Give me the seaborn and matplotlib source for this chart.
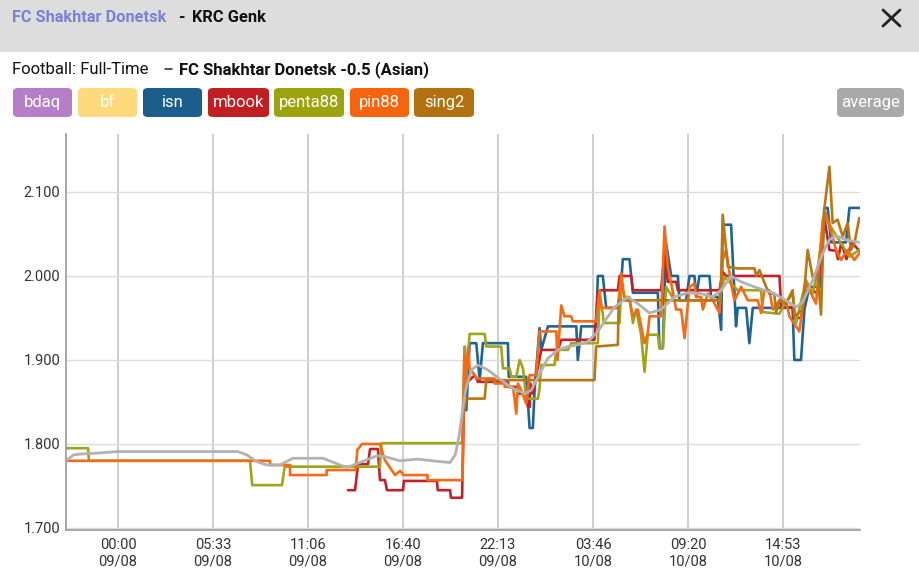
import numpy as np
import pandas as pd
import matplotlib
matplotlib.use("Agg")
import matplotlib.pyplot as plt
import matplotlib.dates as mdates
from matplotlib.patches import FancyBboxPatch, Rectangle
from matplotlib.lines import Line2D
import seaborn as sns

sns.set_theme(style="white")
plt.rcParams['font.family'] = ['Roboto', 'DejaVu Sans']

# ---------------- data (hours from 09/08 00:00, odds) ----------------
home_team = "FC Shakhtar Donetsk"
away_team = "KRC Genk"
market = "Football: Full-Time"
selection = "FC Shakhtar Donetsk -0.5 (Asian)"
books = ["bdaq", "bf", "isn", "mbook", "penta88", "pin88", "sing2"]
y_ticks = [1.7, 1.8, 1.9, 2.0, 2.1]

pin88_points = [(-3.04, 1.780), (8.89, 1.780), (8.89, 1.775), (10.06, 1.775), (10.06, 1.763), (12.2, 1.763),
                (12.2, 1.769), (13.9, 1.769), (14.0, 1.793), (14.27, 1.800), (15.32, 1.800), (15.6, 1.781),
                (16.2, 1.763), (16.5, 1.768), (16.7, 1.763), (18.1, 1.763), (18.1, 1.757), (20.15, 1.757),
                (20.25, 1.905), (20.35, 1.870), (20.47, 1.915), (20.56, 1.890), (20.86, 1.882), (20.95, 1.878),
                (22.02, 1.878), (22.02, 1.872), (22.61, 1.872), (22.61, 1.868), (23.10, 1.868), (23.29, 1.836),
                (23.39, 1.872), (23.58, 1.864), (23.87, 1.848), (24.07, 1.882), (24.46, 1.882), (24.65, 1.934),
                (25.63, 1.934), (25.70, 1.900), (25.92, 1.965), (26.11, 1.952), (26.50, 1.952), (26.60, 1.946),
                (27.96, 1.946), (28.16, 1.983), (28.26, 1.965), (28.35, 1.962), (29.23, 1.962), (29.43, 2.003),
                (29.62, 1.971), (29.91, 1.971), (30.11, 1.952), (30.40, 1.960), (30.79, 1.920), (30.98, 1.932),
                (31.08, 1.952), (31.76, 1.952), (31.96, 2.059), (32.15, 2.011), (32.35, 1.991), (32.64, 1.960),
                (32.93, 1.960), (33.13, 1.926), (33.42, 1.987), (33.71, 1.991), (33.81, 1.975), (34.10, 1.975),
                (34.20, 1.960), (34.49, 1.979), (34.78, 1.971), (35.17, 1.956), (35.36, 2.019), (35.56, 2.031),
                (35.85, 1.991), (36.05, 1.971), (36.44, 1.987), (36.83, 1.971), (37.41, 1.971), (37.60, 1.956),
                (37.80, 1.983), (38.09, 1.983), (38.29, 1.960), (38.68, 1.971), (39.06, 1.971), (39.26, 1.952),
                (39.84, 1.934), (40.23, 1.991), (40.82, 1.967), (41.21, 2.067), (41.40, 2.075), (41.99, 2.031),
                (42.28, 2.019), (42.67, 2.031), (43.06, 2.019), (43.35, 2.027)]

isn_points = [(20.37, 1.840), (20.56, 1.920), (20.95, 1.920), (21.15, 1.876), (21.34, 1.920), (22.80, 1.920),
              (22.85, 1.880), (23.87, 1.880), (24.07, 1.819), (24.26, 1.819), (24.36, 1.864), (24.65, 1.938),
              (24.75, 1.912), (25.14, 1.940), (26.80, 1.940), (26.89, 1.900), (27.09, 1.940), (27.96, 1.940),
              (28.06, 2.000), (28.35, 2.000), (28.55, 1.962), (29.33, 1.962), (29.52, 2.020), (29.91, 2.020),
              (30.11, 1.980), (31.57, 1.980), (31.66, 1.914), (31.86, 1.914), (32.05, 2.039), (32.35, 2.000),
              (32.74, 2.000), (32.83, 1.971), (33.22, 1.971), (33.42, 2.000), (33.71, 2.000), (33.81, 1.975),
              (34.00, 2.000), (34.59, 2.000), (34.68, 1.975), (35.07, 1.975), (35.27, 1.936), (35.36, 2.061),
              (35.85, 2.061), (36.05, 1.979), (36.14, 1.940), (36.24, 1.962), (36.73, 1.962), (36.92, 1.920),
              (37.12, 1.962), (39.45, 1.962), (39.55, 1.900), (39.94, 1.900), (40.14, 1.960), (40.43, 1.987),
              (41.11, 1.987), (41.30, 2.081), (41.50, 2.081), (41.70, 2.040), (42.57, 2.040), (42.77, 2.081),
              (43.35, 2.081)]

mbook_points = [(13.45, 1.745), (13.86, 1.745), (14.04, 1.776), (14.62, 1.776), (14.74, 1.794), (15.20, 1.794),
                (15.32, 1.757), (15.61, 1.757), (15.73, 1.745), (16.67, 1.745), (16.72, 1.756), (18.65, 1.756),
                (18.70, 1.745), (19.42, 1.745), (19.47, 1.736), (20.12, 1.736), (20.25, 1.870), (20.86, 1.882),
                (21.05, 1.874), (22.80, 1.874), (22.85, 1.868), (23.39, 1.868), (23.44, 1.860), (23.87, 1.860),
                (23.97, 1.844), (24.07, 1.844), (24.12, 1.872), (24.26, 1.860), (24.46, 1.882), (24.75, 1.912),
                (25.73, 1.912), (25.92, 1.924), (27.86, 1.924), (28.06, 1.980), (28.16, 1.983), (29.23, 1.983),
                (29.33, 2.000), (30.01, 2.000), (30.11, 1.983), (31.76, 1.983), (31.96, 2.030), (32.15, 1.993),
                (32.64, 1.993), (32.74, 1.983), (35.17, 1.983), (35.36, 2.005), (35.56, 2.000), (38.68, 2.000),
                (38.78, 1.963), (39.45, 1.963), (39.55, 1.950), (39.94, 1.950), (40.23, 1.983), (40.62, 1.983),
                (40.91, 1.979), (41.30, 2.070), (41.60, 2.031), (42.00, 2.030), (42.10, 2.020), (42.30, 2.040),
                (42.60, 2.020), (42.90, 2.040), (43.35, 2.030)]

penta88_points = [(-3.04, 1.795), (-1.75, 1.795), (-1.70, 1.780), (7.72, 1.780), (7.85, 1.751), (9.59, 1.751),
                  (9.75, 1.773), (15.32, 1.773), (15.40, 1.801), (20.12, 1.801), (20.27, 1.916), (20.37, 1.880),
                  (20.56, 1.931), (21.44, 1.931), (21.54, 1.916), (22.41, 1.916), (22.51, 1.890), (22.90, 1.890),
                  (23.00, 1.880), (23.29, 1.880), (23.49, 1.900), (23.68, 1.890), (23.78, 1.872), (23.87, 1.854),
                  (24.56, 1.854), (24.65, 1.866), (24.75, 1.894), (25.53, 1.894), (25.63, 1.912), (26.31, 1.912),
                  (26.50, 1.920), (28.06, 1.920), (28.16, 1.975), (28.35, 1.955), (28.40, 1.944), (29.33, 1.944),
                  (29.43, 1.991), (29.62, 1.975), (29.91, 1.975), (30.11, 1.944), (30.30, 1.960), (30.59, 1.930),
                  (30.79, 1.886), (30.98, 1.930), (31.57, 1.930), (31.66, 1.914), (31.86, 1.914), (32.05, 1.987),
                  (32.54, 1.971), (35.17, 1.971), (35.46, 1.999), (35.85, 1.991), (36.24, 1.983), (37.60, 1.983),
                  (37.70, 1.957), (38.68, 1.955), (38.87, 1.963), (39.45, 1.979), (39.65, 1.944), (40.23, 1.995),
                  (40.62, 1.979), (40.91, 2.007), (41.30, 2.071), (41.79, 2.055), (42.77, 2.023), (43.35, 2.031)]

sing2_points = [(20.27, 1.840), (20.37, 1.854), (21.44, 1.854), (21.54, 1.876), (27.86, 1.876), (27.96, 1.916),
                (29.23, 1.918), (29.28, 1.971), (35.17, 1.971), (35.27, 1.995), (35.36, 2.073), (35.66, 2.011),
                (36.24, 2.009), (37.22, 2.009), (37.32, 2.000), (37.51, 2.007), (37.90, 1.987), (38.09, 1.979),
                (38.38, 1.979), (38.48, 1.956), (38.68, 1.971), (39.06, 1.967), (39.45, 1.983), (39.55, 1.952),
                (40.04, 1.960), (40.33, 2.031), (40.62, 1.999), (40.91, 2.003), (41.11, 1.954), (41.30, 2.079),
                (41.60, 2.130), (41.79, 2.063), (42.08, 2.067), (42.38, 2.047), (42.67, 2.063), (42.86, 2.031),
                (43.06, 2.039), (43.35, 2.069)]

average_points = [(-3.04, 1.780), (-2.6, 1.787), (-2.2, 1.788), (-1.3, 1.789), (0.0, 1.791), (7.0, 1.791),
                  (7.54, 1.787), (8.1, 1.779), (8.71, 1.775), (9.47, 1.775), (10.23, 1.783), (11.99, 1.783),
                  (12.98, 1.775), (13.39, 1.772), (14.15, 1.778), (15.15, 1.786), (15.6, 1.785), (16.49, 1.780),
                  (17.49, 1.782), (18.83, 1.779), (19.42, 1.778), (19.72, 1.787), (19.95, 1.810), (20.15, 1.840),
                  (20.35, 1.866), (20.66, 1.888), (21.05, 1.894), (21.64, 1.888), (22.41, 1.876), (23.10, 1.866),
                  (23.78, 1.860), (24.17, 1.864), (24.56, 1.880), (25.14, 1.902), (25.73, 1.912), (26.31, 1.916),
                  (26.89, 1.918), (27.48, 1.922), (28.06, 1.934), (28.45, 1.946), (29.04, 1.963), (29.81, 1.975),
                  (30.40, 1.967), (31.08, 1.956), (31.76, 1.960), (32.54, 1.975), (33.32, 1.980), (34.10, 1.979),
                  (34.78, 1.975), (35.27, 1.983), (35.85, 2.000), (36.44, 1.993), (37.22, 1.987), (37.80, 1.983),
                  (38.29, 1.980), (39.06, 1.971), (39.65, 1.963), (40.04, 1.969), (40.62, 1.995), (41.21, 2.027),
                  (41.60, 2.043), (41.99, 2.048), (42.57, 2.043), (43.35, 2.040)]

button_colors = {"bdaq": "#B47FC8", "bf": "#FFD97C", "isn": "#1B5E8C", "mbook": "#C11F22",
                 "penta88": "#9CA30F", "pin88": "#F7640E", "sing2": "#B2710E", "average": "#A9A9A9"}
line_colors = {"isn": "#1E6496", "mbook": "#C3212A", "penta88": "#A0A41A", "pin88": "#F86A12",
               "sing2": "#B97613", "average": "#B2B2B2"}

# ---------------- build dataframe ----------------
base = pd.Timestamp("2024-08-09 00:00")
series = {"isn": isn_points, "mbook": mbook_points, "penta88": penta88_points,
          "pin88": pin88_points, "sing2": sing2_points}
rows = []
for book in ["isn", "mbook", "penta88", "pin88", "sing2"]:
    for h, v in series[book]:
        rows.append((book, base + pd.to_timedelta(h, unit="h"), v))
df = pd.DataFrame(rows, columns=["book", "time", "odds"])
avg_df = pd.DataFrame([(base + pd.to_timedelta(h, unit="h"), v) for h, v in average_points],
                      columns=["time", "odds"])

# ---------------- figure ----------------
W, H = 919, 574
fig = plt.figure(figsize=(W / 100, H / 100), dpi=100)
fig.patch.set_facecolor("white")
renderer = fig.canvas.get_renderer()

def fx(x):
    return x / W

def fy(y):
    return 1 - y / H

def fit_text(x, y, s, target_w, **kw):
    t = fig.text(fx(x), fy(y), s, **kw)
    w = t.get_window_extent(renderer=renderer).width
    if w > 0:
        t.set_fontsize(t.get_fontsize() * target_w / w)
    return t

ax = fig.add_axes([fx(66), fy(530), fx(860) - fx(66), fy(134) - fy(530)])

order = ["isn", "mbook", "penta88", "pin88", "sing2"]
sns.lineplot(data=df, x="time", y="odds", hue="book", hue_order=order,
             palette=[line_colors[b] for b in order], estimator=None, sort=False,
             linewidth=1.9, legend=False, ax=ax)
sns.lineplot(data=avg_df, x="time", y="odds", color=line_colors["average"], estimator=None,
             sort=False, linewidth=2.0, legend=False, ax=ax)

xt = [base + pd.Timedelta(seconds=20000 * k) for k in range(8)]
ax.set_xticks(xt)
ax.xaxis.set_major_formatter(mdates.DateFormatter("%H:%M\n%d/%m"))
ax.set_xlim(base + pd.to_timedelta(-3.04, unit="h"), base + pd.to_timedelta(43.39, unit="h"))
ax.set_ylim(1.6976, 2.169)
ax.set_yticks(y_ticks)
ax.set_yticklabels([f"{t:.3f}" for t in y_ticks])
ax.set_xlabel("")
ax.set_ylabel("")
ax.tick_params(axis="both", length=0, labelsize=10.5, labelcolor="#333333")
ax.tick_params(axis="y", pad=4)
ax.tick_params(axis="x", pad=6)
for lab in ax.get_xticklabels():
    lab.set_linespacing(1.2)
ax.grid(axis="y", color="#DCDCDC", linewidth=1.0)
ax.grid(axis="x", color="#CACACA", linewidth=1.3)
ax.set_axisbelow(True)
for s in ["top", "right"]:
    ax.spines[s].set_visible(False)
for s in ["left", "bottom"]:
    ax.spines[s].set_color("#9A9A9A")
    ax.spines[s].set_linewidth(1.2)

# ---------------- header ----------------
fig.patches.append(Rectangle((0, fy(52)), 1, 52 / H, transform=fig.transFigure,
                             facecolor="#DDDDDD", edgecolor="none", zorder=0))
fit_text(12, 18, home_team, 154, color="#7B80D6", fontsize=12, fontweight="bold", va="center", ha="left")
fig.text(fx(178), fy(18), "-", color="#111111", fontsize=12, fontweight="bold", va="center", ha="left")
fit_text(192, 18, away_team, 74, color="#111111", fontsize=12, fontweight="bold", va="center", ha="left")
fig.lines.append(Line2D([fx(883), fx(900)], [fy(10), fy(26)], transform=fig.transFigure, color="#222222", lw=2))
fig.lines.append(Line2D([fx(883), fx(900)], [fy(26), fy(10)], transform=fig.transFigure, color="#222222", lw=2))

fit_text(12, 70, market, 136, color="#111111", fontsize=12, va="center", ha="left")
fig.lines.append(Line2D([fx(165), fx(172)], [fy(68.5), fy(68.5)], transform=fig.transFigure,
                        color="#222222", lw=1.1))
fit_text(179, 70, selection, 249, color="#111111", fontsize=12, fontweight="bold", va="center", ha="left")

# ---------------- legend buttons ----------------
button_x = {"bdaq": (13, 72), "bf": (78, 137), "isn": (143, 202), "mbook": (208, 269),
            "penta88": (274, 344), "pin88": (350, 409), "sing2": (414, 474), "average": (837, 904)}
for name, (x0, x1) in button_x.items():
    y0, y1 = 88, 117
    box = FancyBboxPatch((fx(x0), fy(y1)), fx(x1) - fx(x0), fy(y0) - fy(y1),
                         boxstyle="round,pad=0,rounding_size=0.006", transform=fig.transFigure,
                         facecolor=button_colors[name], edgecolor="none", zorder=1)
    fig.patches.append(box)
    fig.text(fx((x0 + x1) / 2), fy(102.5), name, color="white", fontsize=12,
             ha="center", va="center", zorder=2)

fig.savefig("out.png", dpi=100, facecolor="white")
